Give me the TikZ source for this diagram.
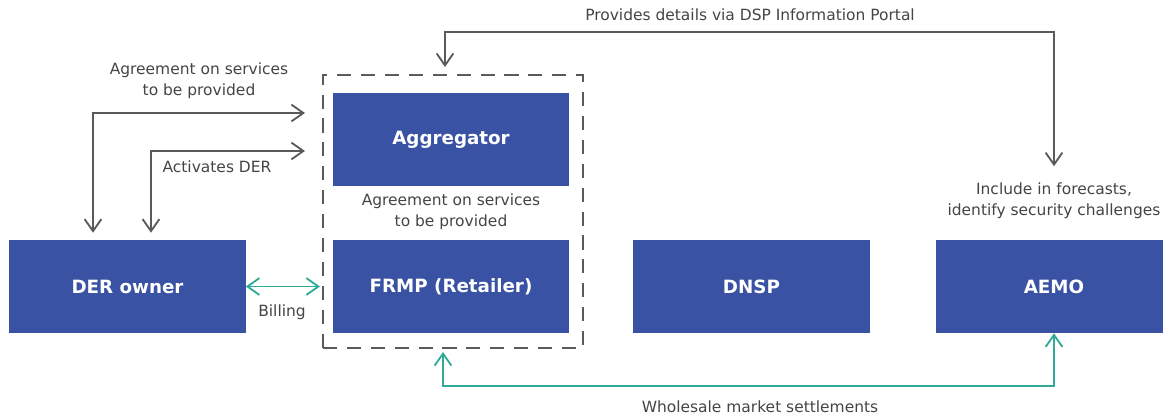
\documentclass[tikz,border=0pt]{standalone}
\usepackage{fontspec}
\setmainfont{DejaVu Sans}
\usetikzlibrary{arrows.meta}
\definecolor{derblue}{HTML}{3A52A3}
\definecolor{setteal}{HTML}{2EAA96}
\definecolor{lnkgray}{HTML}{5A5A5A}
\definecolor{txtgray}{HTML}{444444}
\begin{document}
\begin{tikzpicture}[x=0.025cm,y=-0.025cm,
    blk/.style={fill=derblue,text=white,minimum width=5.9cm,minimum height=2.325cm,inner sep=0pt,
        font=\fontsize{13}{15}\selectfont\bfseries},
    lbl/.style={text=txtgray,align=center,inner sep=0pt,font=\fontsize{11}{15}\selectfont},
    grpbox/.style={draw=lnkgray,line width=1.4pt,dash pattern=on 10pt off 7pt,
        minimum width=6.5cm,minimum height=6.825cm},
    lnk/.style={draw=lnkgray,line width=1.3pt,
        {Straight Barb[length=3mm,width=4.2mm]}-{Straight Barb[length=3mm,width=4.2mm]}},
    pay/.style={lnk,draw=setteal}]
        \useasboundingbox (0,0) rectangle (1163,417);

        \node[grpbox] (grp) at (453,211.5) {};
        \node[blk] (agg) at (451,139.5) {Aggregator};
        \foreach \n/\x/\t in {der/127.5/DER owner,frmp/451/FRMP (Retailer),dnsp/751.5/DNSP,aemo/1054/AEMO}{
            \node[blk] (\n) at (\x,286.5) {\t};
        }

        \node[lbl] (portal) at (750,15) {Provides details via DSP Information Portal};
        \node[lbl] (agrtxt) at (199,81) {Agreement on services\\to be provided};
        \node[lbl] (acttxt) at (217,167) {Activates DER};
        \node[lbl] (agrmid) at (451,212) {Agreement on services\\to be provided};
        \node[lbl] (fcast) at (1054,200.5) {Include in forecasts,\\identify security challenges};
        \node[lbl] (billtxt) at (282,312) {Billing};
        \node[lbl] (wstxt) at (760,407) {Wholesale market settlements};

        \coordinate (ptT) at (445,32);
        \coordinate (agrL) at (93,113);
        \coordinate (actL) at (151,151);
        \coordinate (wsB) at (443,386);

        \draw[lnk,shorten <=0.175cm,shorten >=0.4cm] (grp.north -| ptT) -- (ptT) -| (fcast.north);
        \draw[lnk,shorten <=0.175cm,shorten >=0.425cm] (der.north -| agrL) |- (grp.west |- agrL);
        \draw[lnk,shorten <=0.175cm,shorten >=0.425cm] (der.north -| actL) |- (grp.west |- actL);
        \draw[pay,shorten >=0.05cm] (der.east) -- (grp.west |- der.east);
        \draw[pay,shorten <=0.075cm] (grp.south -| wsB) -- (wsB) -| (aemo.south);
    \end{tikzpicture}
\end{document}
